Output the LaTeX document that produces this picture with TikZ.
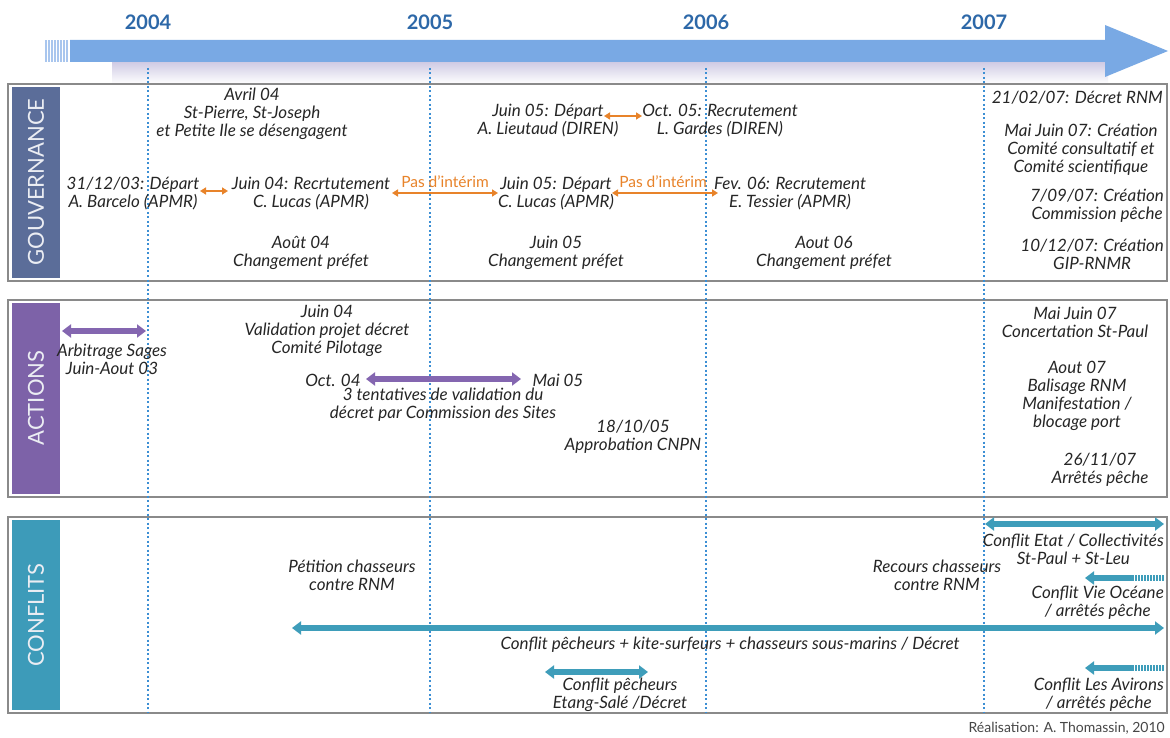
\documentclass[tikz,border=0pt]{standalone}
\usepackage{fontspec}
\setmainfont{Lato}
\usetikzlibrary{arrows.meta,shapes.geometric}
\definecolor{txt}{HTML}{262626}
\definecolor{yearc}{HTML}{2D68A8}
\definecolor{dotc}{HTML}{3C8FD4}
\definecolor{barc}{HTML}{79A9E4}
\definecolor{barlight}{HTML}{A9C6EE}
\definecolor{lav}{HTML}{CBC6E2}
\definecolor{panelc}{HTML}{8A8A8A}
\definecolor{govc}{HTML}{5B6D99}
\definecolor{actc}{HTML}{7D62A8}
\definecolor{conc}{HTML}{3D9BB9}
\definecolor{purc}{HTML}{8466B0}
\definecolor{tealc}{HTML}{3E9DBA}
\definecolor{orc}{HTML}{E8832A}
\begin{document}
\begin{tikzpicture}[x=1pt,y=-1pt,
  ev/.style={font=\fontsize{17}{18}\selectfont\itshape, text=txt, align=center, inner sep=0pt},
  yr/.style={font=\fontsize{20}{20}\selectfont\bfseries, text=yearc, inner sep=0pt},
  side/.style={font=\fontsize{22}{22}\selectfont, text=white!88!govc, rotate=90, inner sep=0pt},
  panel/.style={draw=panelc, line width=2pt, fill=white},
  gridl/.style={draw=dotc, line width=1.6pt, dash pattern=on 2pt off 2.5pt},
  orarrow/.style={draw=orc, line width=2pt, {Triangle[length=6pt,width=7pt]}-{Triangle[length=6pt,width=7pt]}},
  purarrow/.style={draw=purc, line width=6pt, {Triangle[length=9pt,width=13pt]}-{Triangle[length=9pt,width=13pt]}},
  tealboth/.style={draw=tealc, line width=6pt, {Triangle[length=9pt,width=13pt]}-{Triangle[length=9pt,width=13pt]}},
  tealleft/.style={draw=tealc, line width=6pt, -{Triangle[length=9pt,width=13pt]}},
  pas/.style={font=\fontsize{15.5}{15.5}\selectfont, text=orc, inner sep=0pt},
  credit/.style={font=\fontsize{14}{14}\selectfont, text=txt!85!white, inner sep=0pt, anchor=east}
]
\useasboundingbox (0,0) rectangle (1170,738);
\fill[white] (0,0) rectangle (1170,738);

% top time arrow
\shade[top color=lav, bottom color=white] (112,60) rectangle (1108,84);
\fill[barc] (70,40) -- (1105,40) -- (1105,25) -- (1168,51) -- (1105,77) -- (1105,62) -- (70,62) -- cycle;
\foreach \i in {45,48,...,68} \fill[barlight] (\i,40) rectangle (\i+1.6,62);

% years
\node[yr] (y2004) at (148,22) {2004};
\node[yr] (y2005) at (430,22) {2005};
\node[yr] (y2006) at (706,22) {2006};
\node[yr] (y2007) at (984,22) {2007};

% panels
\draw[panel] (8,84) rectangle (1167,281);
\draw[panel] (8,300) rectangle (1167,497);
\draw[panel] (8,517) rectangle (1167,713);
\fill[govc] (12,87) rectangle (60,278);
\fill[actc] (12,303) rectangle (60,494);
\fill[conc] (12,520) rectangle (60,710);
\node[side] (lgov) at (36,182) {GOUVERNANCE};
\node[side] (lact) at (36,398) {ACTIONS};
\node[side] (lcon) at (36,615) {CONFLITS};

% dotted year lines
\foreach \x/\n in {148/a,430/b,706/c,984/d}{
  \coordinate (top\n) at (\x,68);
  \coordinate (bot\n) at (\x,712);
  \draw[gridl] (top\n) -- (bot\n);
}

% ---------- GOUVERNANCE ----------
\node[ev] (avril) at (252,114) {Avril 04\\St-Pierre, St-Joseph\\et Petite Ile se désengagent};
\node[ev] (lieut) at (548,121) {Juin 05: Départ\\A. Lieutaud (DIREN)};
\node[ev] (gardes) at (720,121) {Oct. 05: Recrutement\\L. Gardes (DIREN)};
\node[ev] (barc) at (133,194) {31/12/03: Départ\\A. Barcelo (APMR)};
\node[ev] (luc1) at (311,194) {Juin 04: Recrtutement\\C. Lucas (APMR)};
\node[ev] (luc2) at (556,194) {Juin 05: Départ\\C. Lucas (APMR)};
\node[ev] (tess) at (790,194) {Fev. 06: Recrutement\\E. Tessier (APMR)};
\node[ev] (pre1) at (301,253) {Août 04\\Changement préfet};
\node[ev] (pre2) at (556,253) {Juin 05\\Changement préfet};
\node[ev] (pre3) at (824,253) {Aout 06\\Changement préfet};
\node[ev, anchor=east] (dec) at (1163,98) {21/02/07: Décret RNM};
\node[ev] (com) at (1081,150) {Mai Juin 07: Création\\Comité consultatif et\\Comité scientifique};
\node[ev, anchor=east] (cpe) at (1164,206) {7/09/07: Création\\Commission pêche};
\node[ev, anchor=east] (gip) at (1164,254) {10/12/07: Création\\GIP-RNMR};

\coordinate (o1a) at (200,191); \coordinate (o1b) at (228,191);
\coordinate (o2a) at (392,193); \coordinate (o2b) at (498,193);
\coordinate (o3a) at (612,193); \coordinate (o3b) at (718,193);
\coordinate (o4a) at (604,116); \coordinate (o4b) at (642,116);
\draw[orarrow] (o1a) -- (o1b);
\draw[orarrow] (o2a) -- (o2b);
\draw[orarrow] (o3a) -- (o3b);
\draw[orarrow] (o4a) -- (o4b);
\node[pas] (pas1) at (445,182) {Pas d'intérim};
\node[pas] (pas2) at (663,182) {Pas d'intérim};

% ---------- ACTIONS ----------
\coordinate (p1a) at (62,331); \coordinate (p1b) at (146,331);
\draw[purarrow] (p1a) -- (p1b);
\node[ev] (arb) at (112,359) {Arbitrage Sages\\Juin-Aout 03};
\node[ev] (val) at (327,331) {Juin 04\\Validation projet décret\\Comité Pilotage};
\node[ev] (oct) at (333,380) {Oct. 04};
\node[ev] (mai) at (558,380) {Mai 05};
\coordinate (p2a) at (366,379); \coordinate (p2b) at (521,379);
\draw[purarrow] (p2a) -- (p2b);
\node[ev] (tent) at (443,405) {3 tentatives de validation du\\décret par Commission des Sites};
\node[ev] (cnpn) at (633,437) {18/10/05\\Approbation CNPN};
\node[ev] (conc) at (1075,322) {Mai Juin 07\\Concertation St-Paul};
\node[ev] (bal) at (1077,396) {Aout 07\\Balisage RNM\\Manifestation /\\blocage port};
\node[ev] (arr) at (1100,470) {26/11/07\\Arrêtés pêche};

% ---------- CONFLITS ----------
\coordinate (t1a) at (985,524); \coordinate (t1b) at (1164,524);
\draw[tealboth] (t1a) -- (t1b);
\node[ev, anchor=east] (etat) at (1164,549) {Conflit Etat / Collectivités\\St-Paul + St-Leu};
\node[ev] (pet) at (352,575) {Pétition chasseurs\\contre RNM};
\node[ev] (rec) at (937,575) {Recours chasseurs\\contre RNM};
\coordinate (t2a) at (1165,578); \coordinate (t2b) at (1085,578);
\draw[tealleft] (t2a) -- (t2b);
\foreach \i in {1134,1137,...,1164} \fill[white] (\i,574) rectangle (\i+1,582);
\node[ev, anchor=east] (vie) at (1164,603) {Conflit Vie Océane\\/ arrêtés pêche};
\coordinate (t3a) at (292,628); \coordinate (t3b) at (1164,628);
\draw[tealboth] (t3a) -- (t3b);
\node[ev] (long) at (730,645) {Conflit pêcheurs + kite-surfeurs + chasseurs sous-marins / Décret};
\coordinate (t4a) at (545,672); \coordinate (t4b) at (648,672);
\draw[tealboth] (t4a) -- (t4b);
\node[ev] (etang) at (620,695) {Conflit pêcheurs\\Etang-Salé /Décret};
\coordinate (t5a) at (1165,668); \coordinate (t5b) at (1085,668);
\draw[tealleft] (t5a) -- (t5b);
\foreach \i in {1134,1137,...,1164} \fill[white] (\i,664) rectangle (\i+1,672);
\node[ev, anchor=east] (avi) at (1164,695) {Conflit Les Avirons\\/ arrêtés pêche};

\node[credit] (real) at (1165,728) {Réalisation: A. Thomassin, 2010};
\end{tikzpicture}
\end{document}
